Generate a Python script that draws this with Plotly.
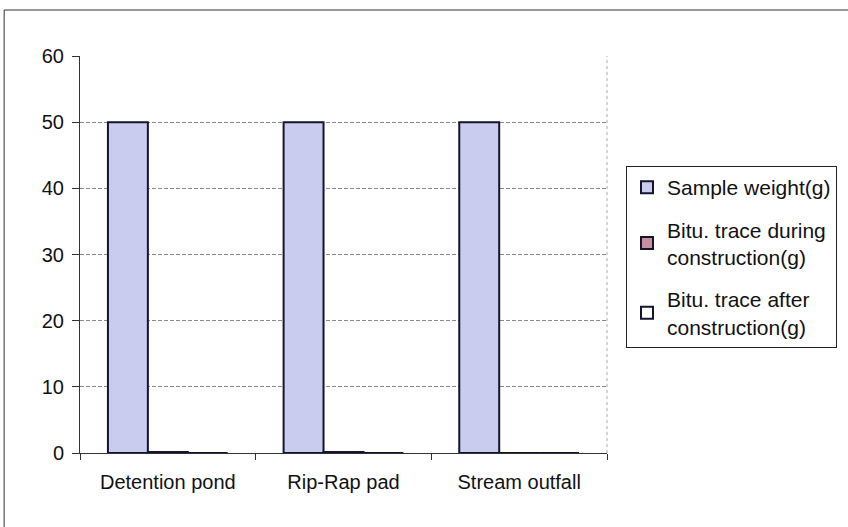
import plotly.graph_objects as go

categories = ["Detention pond", "Rip-Rap pad", "Stream outfall"]
sample_weight = [50, 50, 50]
trace_during = [0.15, 0.15, 0]
trace_after = [0, 0, 0]
series_names = ["Sample weight(g)", "Bitu. trace during<br>construction(g)", "Bitu. trace after<br>construction(g)"]

W, H = 848, 527
L, R, T, B = 80, 240, 56, 74
pw = W - L - R
ph = H - T - B

def px_x(x):
    return (x - L) / pw

def px_y(y):
    return (H - B - y) / ph

fig = go.Figure()
fig.add_trace(go.Bar(x=categories, y=sample_weight, name=series_names[0], legendgroup="a",
                     marker=dict(color="#c9ccee", line=dict(color="#14142e", width=2))))
fig.add_trace(go.Bar(x=categories, y=trace_during, name=series_names[1], legendgroup="b",
                     marker=dict(color="#c7909e", line=dict(color="#14142e", width=2))))
fig.add_trace(go.Bar(x=categories, y=trace_after, name=series_names[2], legendgroup="c",
                     marker=dict(color="#ffffff", line=dict(color="#14142e", width=2))))

font = dict(family="Liberation Sans, Arial, sans-serif", size=20, color="#111")

fig.update_layout(
    width=W, height=H,
    margin=dict(l=L, r=R, t=T, b=B),
    paper_bgcolor="white", plot_bgcolor="white",
    font=font,
    barmode="group", bargap=0.318, bargroupgap=0,
    showlegend=True,
    legend=dict(x=px_x(626), y=px_y(166), xanchor="left", yanchor="top",
                bordercolor="#222", borderwidth=1, bgcolor="white",
                font=dict(family="Liberation Sans, Arial, sans-serif", size=21, color="#111"),
                tracegroupgap=12, itemwidth=30),
    xaxis=dict(type="category", showgrid=False, showline=True, linecolor="#333", linewidth=1,
               ticks="outside", tickson="boundaries", ticklen=6, tickcolor="#333",
               tickfont=font, range=[-0.5, 2.5], ticklabelstandoff=11),
    yaxis=dict(range=[0, 60], dtick=10, showgrid=True, gridcolor="#8a8a8a", gridwidth=1,
               griddash="4px,2px", showline=True, linecolor="#333", linewidth=1,
               ticks="outside", ticklen=7, tickcolor="#333", tickfont=font,
               zeroline=False, ticklabelstandoff=4),
    shapes=[
        dict(type="line", xref="paper", yref="paper", x0=1, x1=1, y0=0, y1=1,
             line=dict(color="#aaaaaa", width=1, dash="dot")),
        dict(type="rect", xref="paper", yref="paper",
             x0=px_x(4), x1=px_x(W + 20), y0=px_y(10), y1=px_y(H + 20),
             line=dict(color="#333", width=1), layer="below"),
    ],
)

fig.write_html("out.html")
